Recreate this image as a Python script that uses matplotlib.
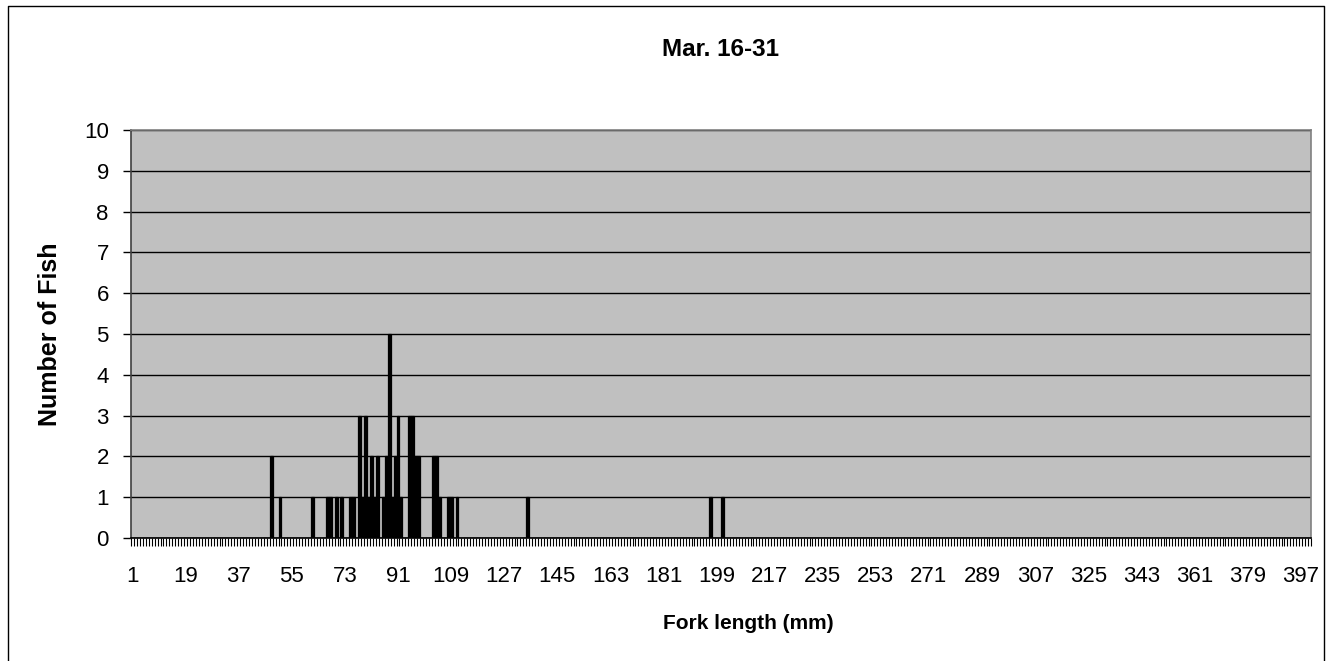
import matplotlib
matplotlib.use("Agg")
import matplotlib.pyplot as plt
import numpy as np
from matplotlib.lines import Line2D

plt.rcParams['font.family'] = ['Liberation Sans', 'DejaVu Sans']

# Fork length categories (mm) and fish counts
categories = list(range(1, 401))
lengths = [48, 51, 62, 67, 68, 70, 72, 75, 76, 78, 79, 80, 81, 82, 83, 84, 86, 87,
           88, 89, 90, 91, 92, 95, 96, 97, 98, 103, 104, 105, 108, 109, 111, 135, 197, 201]
counts = [2, 1, 1, 1, 1, 1, 1, 1, 1, 3, 1, 3, 1, 2, 1, 2, 1, 2,
          5, 1, 2, 3, 1, 3, 3, 2, 2, 2, 2, 1, 1, 1, 1, 1, 1, 1]
tick_labels = [str(c) for c in categories[::18]]

values = np.zeros(len(categories))
for L, c in zip(lengths, counts):
    values[categories.index(L)] = c

fig = plt.figure(figsize=(13.33, 6.61), dpi=100)
ax = fig.add_axes([131/1333, 1-538/661, 1180/1333, 408/661])
ax.set_facecolor('#C0C0C0')

ax.bar(categories, values, width=1.0, color='black', edgecolor='black', linewidth=0.9, zorder=3)

ax.set_xlim(0.5, len(categories) + 0.5)
ax.set_ylim(0, 10)
ax.set_yticks(range(0, 11))
ax.yaxis.grid(True, color='black', linewidth=1.0, zorder=1)
ax.set_axisbelow(True)

ax.set_xticks(categories[::18])
ax.set_xticklabels(tick_labels)
ax.set_xticks(np.arange(0.5, len(categories) + 1, 1), minor=True)
ax.tick_params(axis='x', which='major', length=0, pad=20, labelsize=16)
ax.tick_params(axis='x', which='minor', length=5.5, width=0.8, color='black', direction='out')
ax.tick_params(axis='y', length=6, width=1, labelsize=16, pad=10)

for s in ['top', 'right']:
    ax.spines[s].set_color('#808080')
    ax.spines[s].set_linewidth(1.2)
ax.spines['left'].set_color('#404040')
ax.spines['left'].set_linewidth(1.2)
ax.spines['bottom'].set_color('black')
ax.spines['bottom'].set_linewidth(1.2)

ax.set_xlabel('Fork length (mm)', fontsize=15, fontweight='bold')
ax.xaxis.set_label_coords((748 - 131) / 1180, -0.186)
ax.set_ylabel('Number of Fish', fontsize=18, fontweight='bold', labelpad=16)
fig.text(0.5 * (131 + 1311) / 1333, 1 - 50/661, 'Mar. 16-31', ha='center', va='center',
         fontsize=17.5, fontweight='bold')

# outer chart border
x0, x1 = 8/1333, 1324/1333
y0 = 1 - 6/661
fig.add_artist(Line2D([x0, x0, x1, x1], [-0.01, y0, y0, -0.01], transform=fig.transFigure,
                      color='black', linewidth=1.0))

fig.savefig('out.png', dpi=100)
